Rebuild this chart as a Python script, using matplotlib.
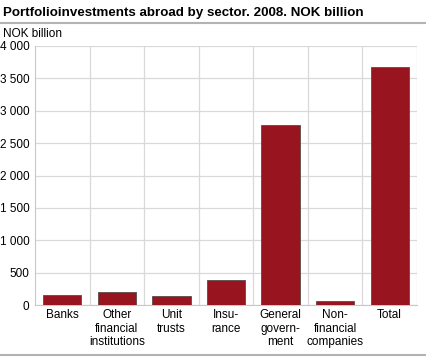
import matplotlib.pyplot as plt
from matplotlib.ticker import FuncFormatter
from matplotlib.lines import Line2D

categories = ['Banks', 'Other\nfinancial\ninstitutions', 'Unit\ntrusts', 'Insu-\nrance',
              'General\ngovern-\nment', 'Non-\nfinancial\ncompanies', 'Total']
values = [150, 200, 135, 385, 2775, 65, 3675]
yticks = [0, 500, 1000, 1500, 2000, 2500, 3000, 3500, 4000]

plt.rcParams['font.family'] = ['Liberation Sans', 'DejaVu Sans']

fig = plt.figure(figsize=(4.26, 3.57), dpi=100)
ax = fig.add_axes([35 / 426, 1 - 305 / 357, 382 / 426, 259 / 357])

x = range(len(categories))
ax.bar(x, values, width=0.7, color='#98141e', edgecolor='#5a4a4a', linewidth=0.6, zorder=3)

ax.set_xlim(-0.5, len(categories) - 0.5)
ax.set_ylim(0, 4000)
ax.set_yticks(yticks)
ax.yaxis.set_major_formatter(FuncFormatter(lambda v, p: f'{int(v):,}'.replace(',', ' ')))
ax.set_xticks(list(x))
ax.set_xticklabels(categories, fontsize=8.5, linespacing=1.15)
ax.tick_params(axis='y', labelsize=8.5, length=0, pad=4)
ax.tick_params(axis='x', length=0, pad=3)

for b in [i + 0.5 for i in range(len(categories))]:
    ax.axvline(b, color='#d9d9d9', linewidth=0.9, zorder=1)
ax.grid(axis='y', color='#d9d9d9', linewidth=0.9, zorder=1)
for s in ['top', 'right']:
    ax.spines[s].set_visible(False)
ax.spines['left'].set_color('#c8c8c8')
ax.spines['bottom'].set_color('#c8c8c8')

fig.text(3 / 426, 1 - 13 / 357, 'Portfolioinvestments abroad by sector. 2008. NOK billion',
         fontsize=9.6, fontweight='bold', va='center', ha='left')
fig.add_artist(Line2D([0, 1], [1 - 23 / 357, 1 - 23 / 357], color='#b3b3b3', linewidth=1.5))
fig.add_artist(Line2D([0, 1], [1 - 355 / 357, 1 - 355 / 357], color='#b3b3b3', linewidth=1.5))
fig.text(3 / 426, 1 - 34 / 357, 'NOK billion', fontsize=8.5, va='center', ha='left')

fig.savefig('out.png', dpi=100)
